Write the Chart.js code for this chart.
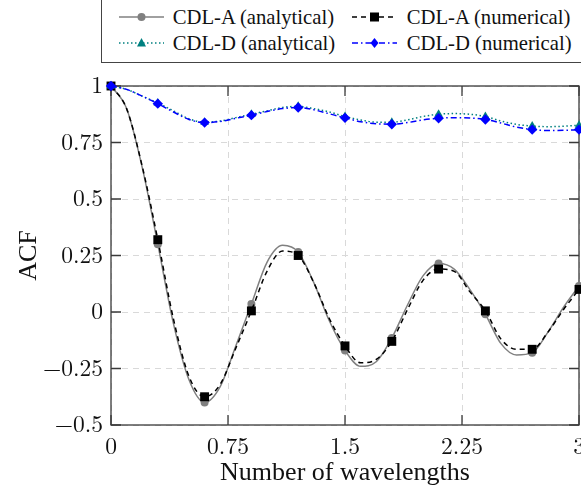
<!DOCTYPE html>
<html>
<head>
<meta charset="utf-8">
<script src="https://cdn.jsdelivr.net/npm/chart.js@4/dist/chart.umd.min.js"></script>
<style>
  html, body { margin:0; padding:0; background:#fff; }
  #wrap { position:relative; width:581px; height:485px; overflow:hidden; }
  #c { position:absolute; left:0; top:0; }
  #legend { position:absolute; left:101px; top:-6px; width:520px; height:69px; border:1.3px solid #444; box-sizing:border-box; background:#fff; font-family:'Liberation Serif', serif; font-size:20.7px; color:#111; }
  .lt { position:absolute; line-height:24px; white-space:nowrap; }
  .ls { position:absolute; }
</style>
</head>
<body>
<div id="wrap">
  <canvas id="c" width="581" height="485"></canvas>
  <div id="legend"></div>
</div>
<script>
// ---- data ----
const xValues = [0.0,0.1,0.2,0.3,0.4,0.5,0.6,0.7,0.8,0.9,1.0,1.1,1.2,1.3,1.4,1.5,1.6,1.7,1.8,1.9,2.0,2.1,2.2,2.3,2.4,2.5,2.6,2.7,2.8,2.9,3.0];
const cdlAAnalytical = [1.00,0.90,0.64,0.30,-0.05,-0.30,-0.40,-0.33,-0.15,0.035,0.22,0.295,0.265,0.13,-0.04,-0.17,-0.24,-0.22,-0.115,0.03,0.16,0.215,0.19,0.10,-0.01,-0.14,-0.19,-0.18,-0.09,0.02,0.115];
const cdlANumerical  = [1.00,0.90,0.645,0.32,-0.03,-0.285,-0.375,-0.32,-0.16,0.005,0.18,0.27,0.25,0.13,-0.03,-0.15,-0.225,-0.21,-0.13,0.01,0.14,0.19,0.18,0.09,0.005,-0.12,-0.165,-0.165,-0.09,0.01,0.10];
const cdlDAnalytical = [1.00,0.985,0.955,0.925,0.89,0.855,0.84,0.845,0.86,0.875,0.89,0.905,0.91,0.90,0.885,0.865,0.85,0.84,0.84,0.85,0.865,0.875,0.878,0.875,0.865,0.845,0.83,0.823,0.82,0.822,0.826];
const cdlDNumerical  = [1.00,0.985,0.955,0.922,0.885,0.852,0.838,0.843,0.857,0.871,0.887,0.90,0.905,0.895,0.877,0.859,0.842,0.833,0.831,0.838,0.85,0.857,0.86,0.858,0.852,0.836,0.818,0.807,0.803,0.804,0.807];
const xTickValues = [0, 0.75, 1.5, 2.25, 3];
const xTickLabels = ['0', '0.75', '1.5', '2.25', '3'];
const yTickValues = [-0.5, -0.25, 0, 0.25, 0.5, 0.75, 1];
const yTickLabels = ['\u22120.5', '\u22120.25', '0', '0.25', '0.5', '0.75', '1'];
const seriesNames = ['CDL-A (analytical)', 'CDL-A (numerical)', 'CDL-D (analytical)', 'CDL-D (numerical)'];
const xTitle = 'Number of wavelengths';
const yTitle = 'ACF';

const FONT = "'Liberation Serif', serif";
const TICKFONT = "'Latin Modern Roman', 'Liberation Serif', serif";
const pts = arr => arr.map((v, i) => ({x: xValues[i], y: v}));
const markEvery = r => (ctx => (ctx.dataIndex % 3 === 0 ? r : 0));

const styles = [
  {color:'#808080', dash:[], pointStyle:'circle', r:4, order:3},
  {color:'#000000', dash:[5,4], pointStyle:'rect', r:6.3, order:2},
  {color:'#008080', dash:[1.5,2.5], pointStyle:'triangle', r:5, order:1},
  {color:'#0000ff', dash:[6,3,1.5,3], pointStyle:'rectRot', r:5.2, order:0}
];
const seriesData = [cdlAAnalytical, cdlANumerical, cdlDAnalytical, cdlDNumerical];

const datasets = seriesData.map((d, k) => ({
  label: seriesNames[k],
  data: pts(d),
  borderColor: styles[k].color,
  backgroundColor: styles[k].color,
  borderWidth: 1.5,
  borderDash: styles[k].dash,
  pointStyle: styles[k].pointStyle,
  pointRadius: markEvery(styles[k].r),
  pointHoverRadius: 0,
  pointBorderWidth: 0,
  pointBackgroundColor: styles[k].color,
  pointBorderColor: styles[k].color,
  cubicInterpolationMode: 'monotone',
  order: styles[k].order,
  clip: 12
}));

const framePlugin = {
  id: 'frame',
  beforeDatasetsDraw(chart) {
    const {ctx, chartArea: a, scales} = chart;
    ctx.save();
    ctx.strokeStyle = '#3a3a3a';
    ctx.lineWidth = 1.3;
    const tl = 10;
    ctx.beginPath();
    xTickValues.forEach(v => {
      const px = scales.x.getPixelForValue(v);
      ctx.moveTo(px, a.bottom); ctx.lineTo(px, a.bottom - tl);
      ctx.moveTo(px, a.top); ctx.lineTo(px, a.top + tl);
    });
    yTickValues.forEach(v => {
      const py = scales.y.getPixelForValue(v);
      ctx.moveTo(a.left, py); ctx.lineTo(a.left + tl, py);
      ctx.moveTo(a.right, py); ctx.lineTo(a.right - tl, py);
    });
    ctx.stroke();
    ctx.strokeRect(a.left, a.top, a.right - a.left, a.bottom - a.top);
    ctx.restore();
  }
};

function draw() {
new Chart(document.getElementById('c'), {
  type: 'line',
  data: { datasets },
  options: {
    responsive: false,
    animation: false,
    events: [],
    layout: { autoPadding: false, padding: { top: 86, right: 2, left: 0, bottom: 0 } },
    plugins: { legend: { display: false }, tooltip: { enabled: false } },
    scales: {
      x: {
        type: 'linear', min: 0, max: 3,
        afterBuildTicks: s => { s.ticks = xTickValues.map(v => ({value: v})); },
        afterFit: s => { s.height = 60; s.paddingLeft = 0; s.paddingRight = 0; },
        ticks: {
          callback: (v) => xTickLabels[xTickValues.indexOf(v)],
          font: { family: TICKFONT, size: 23.5 }, color: '#111', padding: 8, maxRotation: 0, autoSkip: false
        },
        grid: { color: '#d9d9d9', lineWidth: 1, drawTicks: false },
        border: { display: false, dash: [6,5] },
        title: { display: true, text: xTitle, font: { family: FONT, size: 26, lineHeight: 0.9 }, color: '#111', padding: { top: 0, bottom: 0 } }
      },
      y: {
        type: 'linear', min: -0.5, max: 1,
        afterBuildTicks: s => { s.ticks = yTickValues.map(v => ({value: v})); },
        afterFit: s => { s.width = 111; s.paddingTop = 0; s.paddingBottom = 0; },
        ticks: {
          callback: (v) => yTickLabels[yTickValues.indexOf(v)],
          font: { family: TICKFONT, size: 23.5 }, color: '#111', padding: 8, autoSkip: false
        },
        grid: { color: '#d9d9d9', lineWidth: 1, drawTicks: false },
        border: { display: false, dash: [6,5] },
        title: { display: true, text: yTitle, font: { family: FONT, size: 26, lineHeight: 1 }, color: '#111', padding: { top: 16, bottom: 0 } }
      }
    }
  },
  plugins: [framePlugin]
});
}
if (document.fonts && document.fonts.load) {
  Promise.all([
    document.fonts.load("23.5px 'Latin Modern Roman'"),
    document.fonts.load("26px 'Liberation Serif'")
  ]).then(draw, draw);
} else { draw(); }

// ---- HTML legend ----
const legend = document.getElementById('legend');
const OFFX = 101, OFFY = -6;
const entries = [
  {k:0, sx:119, tx:173, cy:17},
  {k:1, sx:352, tx:407, cy:17},
  {k:2, sx:119, tx:173, cy:43},
  {k:3, sx:352, tx:407, cy:43}
];
function markerSvg(st, cx, cy) {
  const c = st.color;
  if (st.pointStyle === 'circle') return `<circle cx="${cx}" cy="${cy}" r="4" fill="${c}"/>`;
  if (st.pointStyle === 'rect') return `<rect x="${cx-4.5}" y="${cy-4.5}" width="9" height="9" fill="${c}"/>`;
  if (st.pointStyle === 'triangle') return `<polygon points="${cx},${cy-5} ${cx+4.5},${cy+3.5} ${cx-4.5},${cy+3.5}" fill="${c}"/>`;
  return `<polygon points="${cx},${cy-5} ${cx+4},${cy} ${cx},${cy+5} ${cx-4},${cy}" fill="${c}"/>`;
}
entries.forEach(e => {
  const st = styles[e.k];
  const w = 45;
  const svg = document.createElementNS('http://www.w3.org/2000/svg', 'svg');
  svg.setAttribute('width', w); svg.setAttribute('height', 14);
  svg.setAttribute('class', 'ls');
  svg.style.left = (e.sx - OFFX - 1.3) + 'px';
  svg.style.top = (e.cy - OFFY - 7 - 1.3) + 'px';
  svg.innerHTML = `<line x1="0" y1="7" x2="${w}" y2="7" stroke="${st.color}" stroke-width="1.5" ${st.dash.length ? `stroke-dasharray="${st.dash.join(',')}"` : ''}/>` + markerSvg(st, w/2, 7);
  legend.appendChild(svg);
  const t = document.createElement('div');
  t.className = 'lt';
  t.textContent = seriesNames[e.k];
  t.style.left = (e.tx - OFFX - 1.3) + 'px';
  t.style.top = (e.cy - OFFY - 12 - 1.3) + 'px';
  legend.appendChild(t);
});
</script>
</body>
</html>
